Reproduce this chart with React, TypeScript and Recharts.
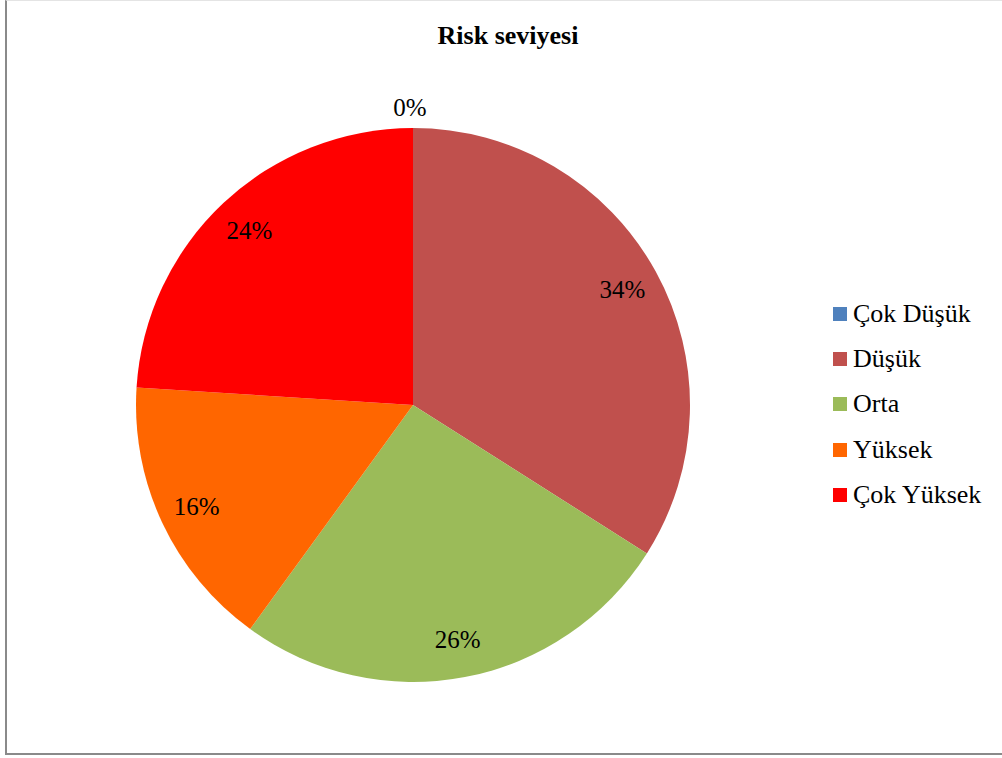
import { PieChart, Pie, Cell } from 'recharts';

const levels = ['Çok Düşük', 'Düşük', 'Orta', 'Yüksek', 'Çok Yüksek'];
const shares = [0, 34, 26, 16, 24];
const colors = ['#4F81BD', '#C0504D', '#9BBB59', '#FF6600', '#FF0000'];

const data = levels.map((name, i) => ({ name, value: shares[i] }));

const FONT = '"Liberation Serif", "Times New Roman", serif';
const RAD = Math.PI / 180;

function renderLabel(props: any) {
  const { cx, cy, midAngle, percent } = props;
  // empty slices get their label just outside the rim, the rest sit inside
  const r = percent === 0 ? 298 : 239;
  const x = cx + r * Math.cos(-midAngle * RAD) - (percent === 0 ? 3 : 0);
  const y = cy + r * Math.sin(-midAngle * RAD);
  return (
    <text
      x={x}
      y={y}
      textAnchor="middle"
      dominantBaseline="central"
      style={{ fontFamily: FONT, fontSize: 25, fill: '#000' }}
    >
      {`${Math.round(percent * 100)}%`}
    </text>
  );
}

export default function App() {
  return (
    <div style={{ position: 'absolute', left: 0, top: 0, width: 1002, height: 758, background: '#fff', overflow: 'hidden' }}>
      <div
        style={{
          position: 'absolute', left: 5, top: 0, width: 1020, height: 752,
          borderLeft: '2px solid #8a8a8a', borderBottom: '2px solid #8a8a8a', borderTop: '1px solid #e4e4e4',
        }}
      />
      <div
        style={{
          position: 'absolute', left: 0, top: 22, width: 1016, textAlign: 'center',
          fontFamily: FONT, fontSize: 26, fontWeight: 'bold', lineHeight: '28px',
        }}
      >
        Risk seviyesi
      </div>
      <div style={{ position: 'absolute', left: 0, top: 0 }}>
        <PieChart width={1002} height={758} margin={{ top: 0, right: 0, bottom: 0, left: 0 }}>
          <Pie
            data={data}
            dataKey="value"
            nameKey="name"
            cx={413}
            cy={405}
            outerRadius={277}
            startAngle={90}
            endAngle={-270}
            stroke="none"
            label={renderLabel}
            labelLine={false}
            isAnimationActive={false}
          >
            {data.map((d, i) => (
              <Cell key={d.name} fill={colors[i]} />
            ))}
          </Pie>
        </PieChart>
      </div>
      <div style={{ position: 'absolute', left: 833, top: 291, fontFamily: FONT, fontSize: 26, color: '#000' }}>
        {levels.map((name, i) => (
          <div key={name} style={{ display: 'flex', alignItems: 'center', height: 45.3, whiteSpace: 'nowrap' }}>
            <span style={{ display: 'inline-block', width: 14, height: 14, background: colors[i], marginRight: 6 }} />
            <span>{name}</span>
          </div>
        ))}
      </div>
    </div>
  );
}
